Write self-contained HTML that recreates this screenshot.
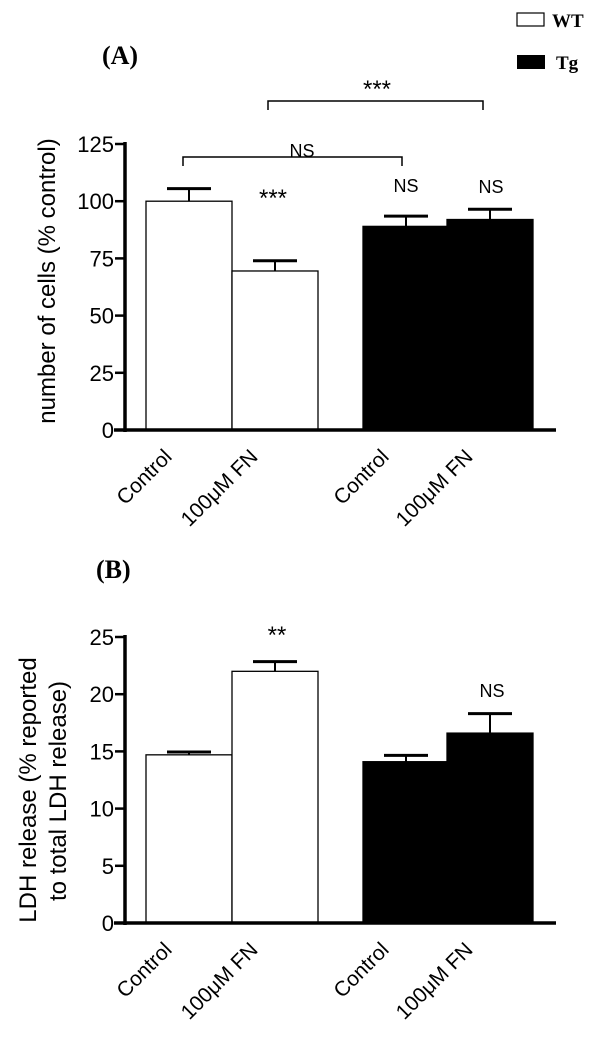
<!DOCTYPE html>
<html><head><meta charset="utf-8"><style>
html,body{margin:0;padding:0;background:#fff;}
svg text{font-family:"Liberation Sans",Arial,sans-serif;fill:#000;}
.serif{font-family:"Liberation Serif",serif !important;font-weight:bold;}
</style></head><body>
<svg id="fig" width="600" height="1038" viewBox="0 0 600 1038">
<g>
<rect x="517" y="13" width="27" height="13" fill="#fff" stroke="#000" stroke-width="1.2"/>
<text x="552" y="27" class="serif" font-size="19">WT</text>
<rect x="517" y="55" width="28" height="14" fill="#000"/>
<text x="556" y="69" class="serif" font-size="19">Tg</text>
</g>
<text x="102" y="64" class="serif" font-size="26">(A)</text>
<text x="96" y="578" class="serif" font-size="26">(B)</text>
<text transform="translate(55,281) rotate(-90)" text-anchor="middle" font-size="24">number of cells (% control)</text>
<text transform="translate(36,790) rotate(-90)" text-anchor="middle" font-size="24">LDH release (% reported</text>
<text transform="translate(66,791) rotate(-90)" text-anchor="middle" font-size="24">to total LDH release)</text>
<g id="chartA"></g>
<g id="chartB"></g>
</svg>
<script>
const categories = ["Control", "100μM FN", "Control", "100μM FN"];
const groups = ["WT", "WT", "Tg", "Tg"];
const valuesA = [100, 69.5, 89, 92];
const errorsA = [5.5, 4.5, 4.5, 4.5];
const ticksA = [0, 25, 50, 75, 100, 125];
const valuesB = [14.7, 22, 14.1, 16.6];
const errorsB = [0.25, 0.85, 0.55, 1.7];
const ticksB = [0, 5, 10, 15, 20, 25];

const NS = "http://www.w3.org/2000/svg";
const barLeft = [146, 232, 363, 447];
const barW = 86;
function mk(parent, tag, attrs, txt) {
  const e = document.createElementNS(NS, tag);
  for (const k in attrs) e.setAttribute(k, attrs[k]);
  if (txt !== undefined) e.textContent = txt;
  parent.appendChild(e);
  return e;
}
function drawPanel(g, values, errors, ticks, y0, yTop, prefix) {
  const maxV = ticks[ticks.length - 1];
  const y = v => y0 - (v / maxV) * (y0 - yTop);
  const axX = 125;
  values.forEach((v, i) => {
    const x = barLeft[i], cx = x + barW / 2;
    const ey = y(v + errors[i]);
    const eb = mk(g, "line", {x1: cx, x2: cx, y1: y(v), y2: ey, stroke: "#000", "stroke-width": 2});
    
    
    const cap = mk(g, "line", {x1: cx - 22, x2: cx + 22, y1: ey, y2: ey, stroke: "#000", "stroke-width": 3});
    
    
    const fill = groups[i] === "WT" ? "#fff" : "#000";
    const r = mk(g, "rect", {x: x, y: y(v), width: barW, height: y0 - y(v), fill: fill, stroke: "#000", "stroke-width": 1.3});
    
    
    const lbl = mk(g, "text", {transform: `translate(${cx - 16},${y0 + 28}) rotate(-45)`, "text-anchor": "end", "font-size": 21}, categories[i]);
    
    
  });
  const ya = mk(g, "line", {x1: axX, x2: axX, y1: yTop - 2, y2: y0 + 2, stroke: "#000", "stroke-width": 3.5});
  
  
  const xa = mk(g, "line", {x1: 114, x2: 556, y1: y0, y2: y0, stroke: "#000", "stroke-width": 3.5});
  
  
  ticks.forEach(t => {
    const tk = mk(g, "line", {x1: 115, x2: axX, y1: y(t), y2: y(t), stroke: "#000", "stroke-width": 2.5});
    
    
    const tl = mk(g, "text", {x: 114, y: y(t) + 8, "text-anchor": "end", "font-size": 22}, String(t));
    
    
  });
  return y;
}
const gA = document.getElementById("chartA");
const yA = drawPanel(gA, valuesA, errorsA, ticksA, 430, 144, "panel-a");
const gB = document.getElementById("chartB");
const yB = drawPanel(gB, valuesB, errorsB, ticksB, 923, 637, "panel-b");

function ann(g, x, yy, txt, name, size) {
  const t = mk(g, "text", {x: x, y: yy, "text-anchor": "middle", "font-size": size || 18}, txt);
  
  
}
const br1 = mk(gA, "path", {d: "M183,166 V157 H402 V166", fill: "none", stroke: "#000", "stroke-width": 1.5});


ann(gA, 302, 157, "NS", "ns-bracket-label");
const br2 = mk(gA, "path", {d: "M268,110 V101 H483 V110", fill: "none", stroke: "#000", "stroke-width": 1.5});


ann(gA, 377, 97, "***", "significance-bracket-label", 24);
ann(gA, 273, 206, "***", "panel-a-bar2-significance", 24);
ann(gA, 406, 192, "NS", "panel-a-bar3-significance");
ann(gA, 491, 193, "NS", "panel-a-bar4-significance");
ann(gB, 277, 643, "**", "panel-b-bar2-significance", 24);
ann(gB, 492, 697, "NS", "panel-b-bar4-significance");
</script>
</body></html>
